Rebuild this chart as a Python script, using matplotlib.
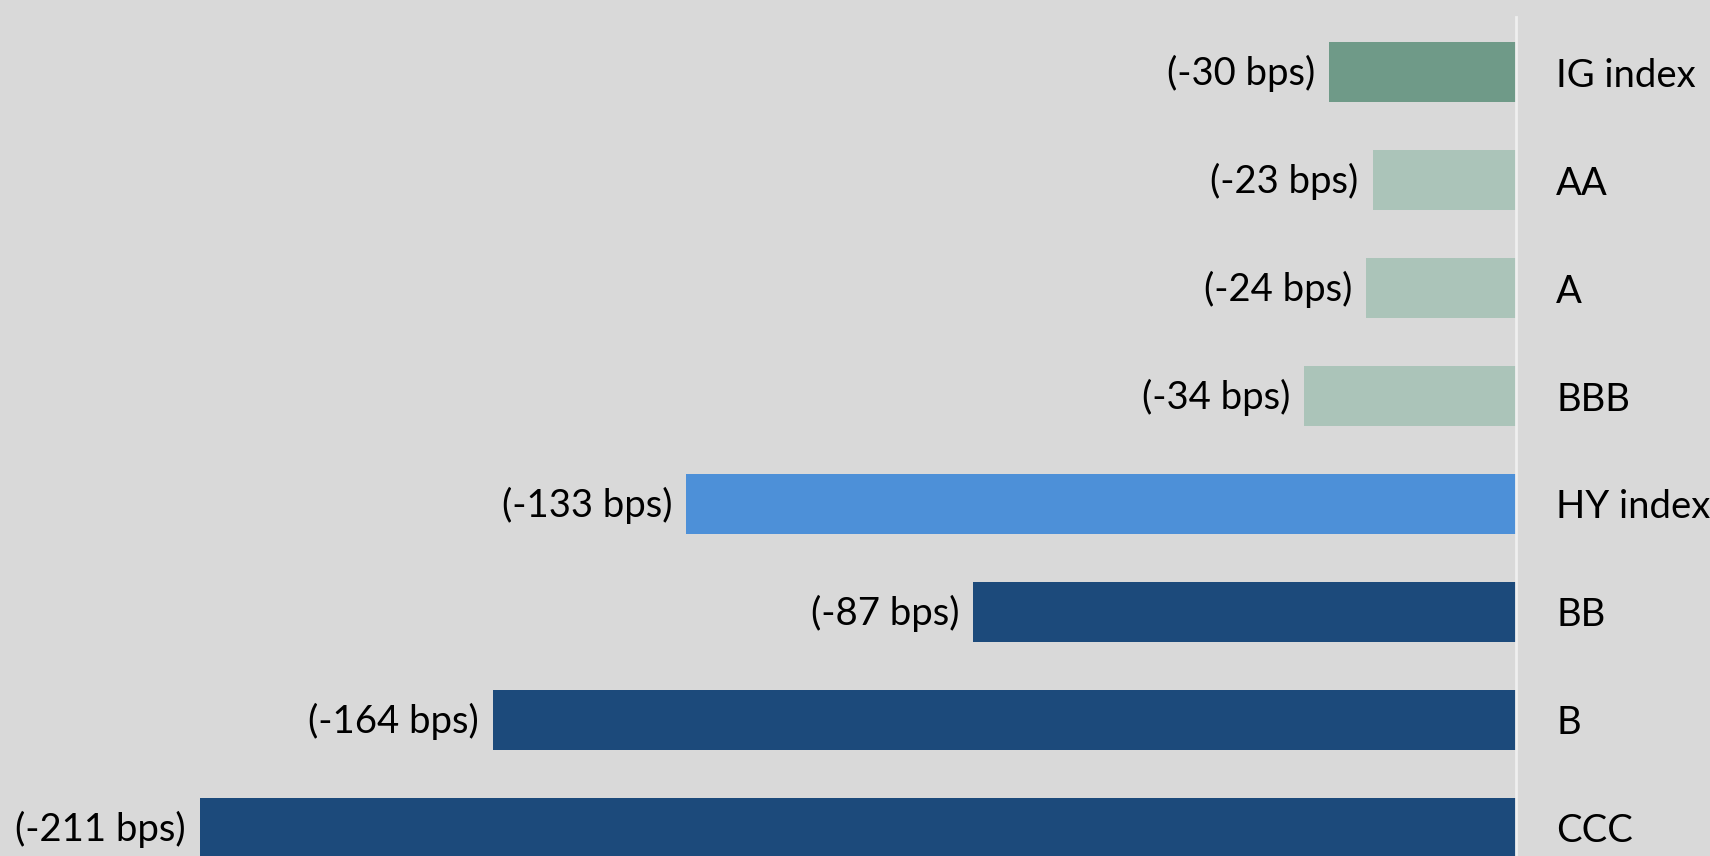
import matplotlib.pyplot as plt

categories = ["IG index", "AA", "A", "BBB", "HY index", "BB", "B", "CCC"]
changes = [-30, -23, -24, -34, -133, -87, -164, -211]
colors = ["#6F9A88", "#ABC4B9", "#ABC4B9", "#ABC4B9",
          "#4D90D8", "#1C4A7B", "#1C4A7B", "#1C4A7B"]

BG = "#D9D9D9"

plt.rcParams["font.family"] = ["Lato", "DejaVu Sans"]

fig = plt.figure(figsize=(17.1, 8.56), dpi=100, facecolor=BG)
ax = fig.add_axes([0, 0, 1516 / 1710, 1 - 17 / 856])
ax.set_facecolor(BG)

y = list(range(len(categories)))
ax.barh(y, changes, height=0.56, color=colors)

ax.set_xlim(-243, 0)
ax.set_ylim(7.26, -0.51)

for yi, v in zip(y, changes):
    ax.annotate(f"({v} bps)", xy=(v, yi), xytext=(-10, -1),
                textcoords="offset points", ha="right", va="center",
                fontsize=27.5, color="black")

ax.yaxis.tick_right()
ax.set_yticks(y)
ax.set_yticklabels(categories, fontsize=27.5)
ax.tick_params(axis="y", length=0, pad=29)
ax.set_xticks([])

for s in ["top", "left", "bottom"]:
    ax.spines[s].set_visible(False)
ax.spines["right"].set_color("#EFEFEF")
ax.spines["right"].set_linewidth(2)

fig.savefig("out.png", dpi=100, facecolor=BG)
